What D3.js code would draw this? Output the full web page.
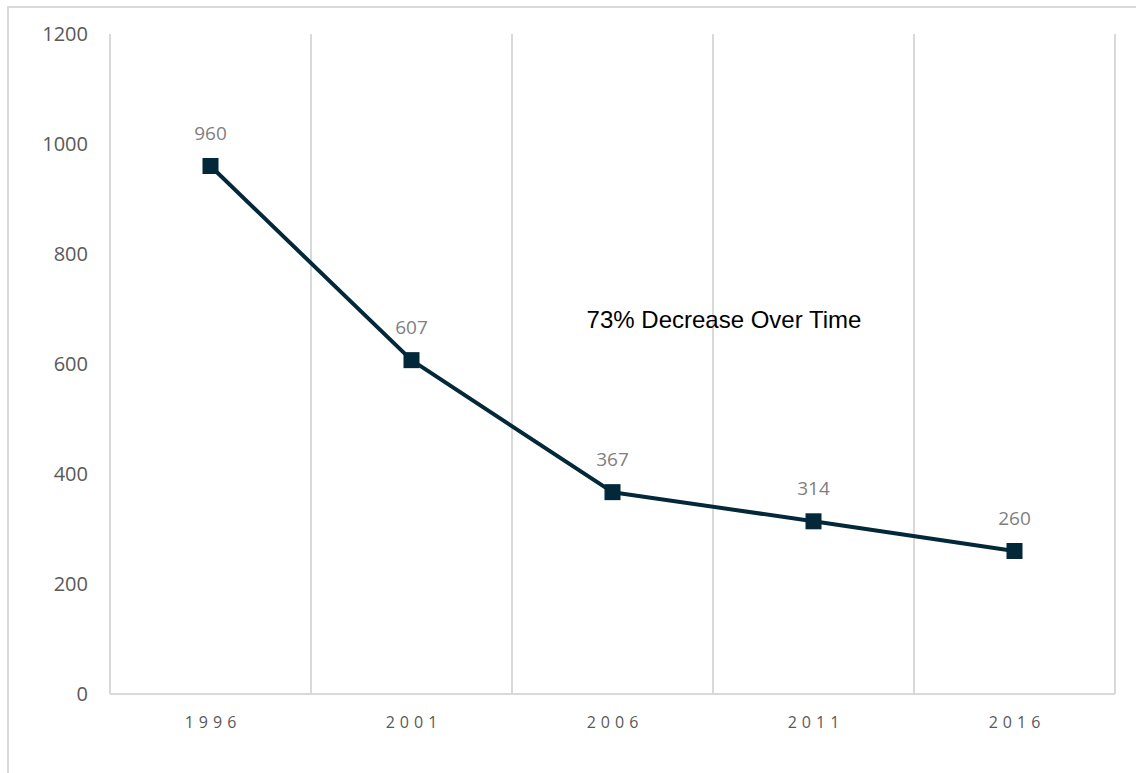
<!DOCTYPE html>
<html>
<head>
<meta charset="utf-8">
<title>73% Decrease Over Time</title>
<script src="https://d3js.org/d3.v7.min.js"></script>
<style>
  body { margin: 0; background: #fff; }
  svg { display: block; }
</style>
</head>
<body>
<svg id="chart" width="1136" height="773"></svg>
<script>
  /* chart data */
  var years = ["1996", "2001", "2006", "2011", "2016"];
  var counts = [960, 607, 367, 314, 260];
  var yTicks = [0, 200, 400, 600, 800, 1000, 1200];
  var note = "73% Decrease Over Time";

  var svg = d3.select("#chart");
  var plotLeft = 110, plotRight = 1115, plotTop = 34, plotBottom = 694;

  var x = d3.scaleBand().domain(years).range([plotLeft, plotRight]).padding(0);
  var y = d3.scaleLinear().domain([0, 1200]).range([plotBottom, plotTop]);

  /* outer frame */
  svg.append("rect")
    .attr("x", 8).attr("y", 7)
    .attr("width", 1140).attr("height", 780)
    .attr("fill", "none")
    .attr("stroke", "#d9d9d9")
    .attr("stroke-width", 2);

  /* vertical gridlines between categories */
  var edges = years.map(function (d) { return x(d); }).concat([x.range()[1]]);
  svg.selectAll(".grid").data(edges).enter().append("line")
    .attr("x1", function (d) { return d; })
    .attr("x2", function (d) { return d; })
    .attr("y1", y(1200))
    .attr("y2", y(0))
    .attr("stroke", "#d9d9d9")
    .attr("stroke-width", 2);

  /* bottom axis line */
  svg.append("line")
    .attr("x1", plotLeft).attr("x2", plotRight)
    .attr("y1", y(0)).attr("y2", y(0))
    .attr("stroke", "#d9d9d9")
    .attr("stroke-width", 2);

  /* y tick labels */
  svg.selectAll(".ytick").data(yTicks).enter().append("text")
    .attr("x", 88)
    .attr("y", function (d) { return y(d); })
    .attr("dy", "0.35em")
    .attr("text-anchor", "end")
    .style("font-family", "'Open Sans', sans-serif")
    .style("font-size", "20px")
    .style("fill", "#595959")
    .text(function (d) { return d; });

  /* x tick labels */
  svg.selectAll(".xtick").data(years).enter().append("text")
    .attr("x", function (d) { return x(d) + x.bandwidth() / 2 + 2.5; })
    .attr("y", 722)
    .attr("dy", "0.35em")
    .attr("text-anchor", "middle")
    .style("font-family", "'Open Sans', sans-serif")
    .style("font-size", "16px")
    .style("letter-spacing", "5px")
    .style("fill", "#595959")
    .text(function (d) { return d; });

  var points = years.map(function (d, i) { return { year: d, value: counts[i] }; });

  /* line */
  var line = d3.line()
    .x(function (d) { return x(d.year) + x.bandwidth() / 2; })
    .y(function (d) { return y(d.value); });

  svg.append("path")
    .datum(points)
    .attr("d", line)
    .attr("fill", "none")
    .attr("stroke", "#02283a")
    .attr("stroke-width", 4)
    .attr("stroke-linejoin", "round");

  /* square markers */
  svg.selectAll(".mark").data(points).enter().append("rect")
    .attr("x", function (d) { return x(d.year) + x.bandwidth() / 2 - 8; })
    .attr("y", function (d) { return y(d.value) - 8; })
    .attr("width", 16)
    .attr("height", 16)
    .attr("fill", "#02283a");

  /* data labels */
  svg.selectAll(".lbl").data(points).enter().append("text")
    .attr("x", function (d) { return x(d.year) + x.bandwidth() / 2; })
    .attr("y", function (d) { return y(d.value) - 33; })
    .attr("dy", "0.35em")
    .attr("text-anchor", "middle")
    .style("font-family", "'Open Sans', sans-serif")
    .style("font-size", "19px")
    .style("fill", "#7f7f7f")
    .text(function (d) { return d.value; });

  /* annotation */
  svg.append("text")
    .attr("x", 724)
    .attr("y", 320)
    .attr("dy", "0.35em")
    .attr("text-anchor", "middle")
    .style("font-family", "'Liberation Sans', Arial, sans-serif")
    .style("font-size", "24px")
    .style("fill", "#000")
    .text(note);
</script>
</body>
</html>
